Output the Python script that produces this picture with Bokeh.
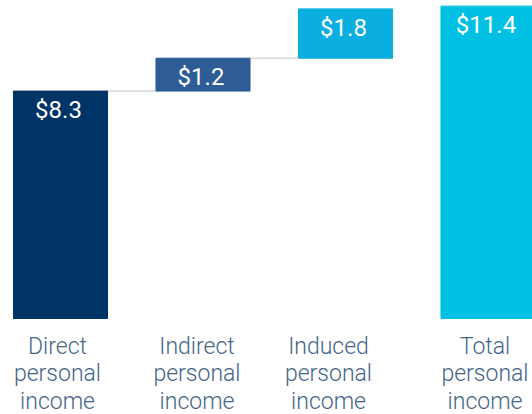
from bokeh.plotting import figure
from bokeh.models import Range1d, ColumnDataSource
from bokeh.core.properties import value
from bokeh.embed import file_html
from bokeh.resources import INLINE

categories = ["Direct\npersonal\nincome", "Indirect\npersonal\nincome",
              "Induced\npersonal\nincome", "Total\npersonal\nincome"]
amounts = [8.3, 1.2, 1.8, 11.4]
is_total = [False, False, False, True]
colors = ["#003366", "#2d5c97", "#0aafdf", "#00c1e3"]
value_labels = ["$8.3", "$1.2", "$1.8", "$11.4"]

# waterfall geometry from the data
xs = list(range(len(categories)))
bottoms, tops = [], []
run = 0.0
for a, t in zip(amounts, is_total):
    if t:
        bottoms.append(0.0)
        tops.append(a)
    else:
        bottoms.append(run)
        run += a
        tops.append(run)

W, H = 532, 414
base_px = 318
px_per_unit = 27.4
y_start = -(H - base_px) / px_per_unit
y_end = y_start + H / px_per_unit
step = 142.5
x_start = -60 / step
x_end = x_start + W / step
bw = 0.66

p = figure(width=W, height=H, output_backend="svg", toolbar_location=None,
           x_range=Range1d(x_start, x_end), y_range=Range1d(y_start, y_end),
           min_border=0)
p.axis.visible = False
p.grid.visible = False
p.outline_line_color = None
p.background_fill_color = "white"
p.border_fill_color = "white"

src = ColumnDataSource(dict(x=xs, top=tops, bottom=bottoms, color=colors,
                            label=value_labels, cat=categories,
                            zero=[0] * len(xs)))

# connector lines
cx0, cx1, cy = [], [], []
for i in range(len(xs) - 1):
    if not is_total[i + 1]:
        cx0.append(xs[i] + bw / 2)
        cx1.append(xs[i + 1] - bw / 2)
        cy.append(tops[i])
p.segment(x0=cx0, y0=cy, x1=cx1, y1=cy, line_color="#d9d9d9", line_width=1.5)

p.vbar(x="x", top="top", bottom="bottom", width=bw, fill_color="color",
       line_color="color", source=src)

p.text(x="x", y="top", text="label", source=src, text_color="white",
       text_font=value("Roboto"), text_font_size="24px", text_align="center",
       text_baseline="top", y_offset=5, x_offset=-2)

# category labels (slight per-label horizontal nudge, as in the reference layout)
label_nudge_px = [-3, -6, -17, -3]
for i in xs:
    p.text(x=[xs[i]], y=[0], text=[categories[i]], text_color="#46658a",
           text_font=value("Roboto Light"), text_font_size="23px",
           text_align="center", text_baseline="top", y_offset=14,
           x_offset=label_nudge_px[i], text_line_height=1.03)

open("out.html", "w").write(file_html(p, INLINE))
